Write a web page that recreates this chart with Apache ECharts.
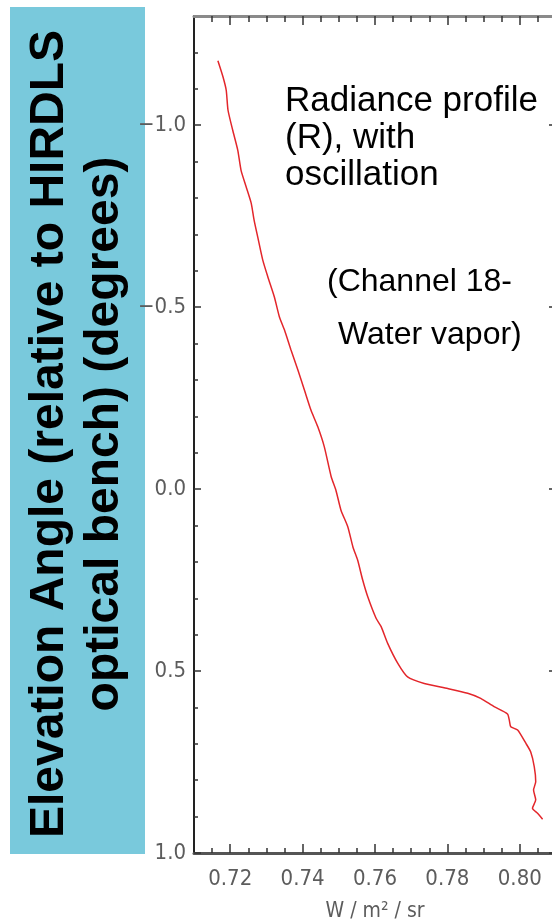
<!DOCTYPE html>
<html>
<head>
<meta charset="utf-8">
<script src="https://cdn.jsdelivr.net/npm/echarts@6/dist/echarts.min.js"></script>
<style>
html, body { margin: 0; padding: 0; background: #fff; }
#chart { width: 552px; height: 924px; }
</style>
</head>
<body>
<div id="chart"></div>
<script>
// Radiance profile (W / m^2 / sr) against elevation angle (degrees)
const radiance = [
  0.7166, 0.7180, 0.7189, 0.7194, 0.7207, 0.7221, 0.7230, 0.7244, 0.7258, 0.7266,
  0.7276, 0.7290, 0.7304, 0.7322, 0.7336, 0.7350, 0.7368, 0.7387, 0.7405, 0.7423,
  0.7442, 0.7460, 0.7479, 0.7492, 0.7506, 0.7525, 0.7539, 0.7552, 0.7566, 0.7580,
  0.7603, 0.7617, 0.7635, 0.7663, 0.7690, 0.7736, 0.7801, 0.7856, 0.7892, 0.7929,
  0.7966, 0.7971, 0.7975, 0.7994, 0.8017, 0.8030, 0.8040, 0.8044, 0.8038, 0.8044,
  0.8035, 0.8049, 0.8063
];
const elevation = [
  -1.177, -1.133, -1.096, -1.041, -0.986, -0.931, -0.876, -0.831, -0.786, -0.739,
  -0.693, -0.629, -0.583, -0.528, -0.473, -0.437, -0.382, -0.327, -0.272, -0.217,
  -0.171, -0.116, -0.034, 0.003, 0.058, 0.104, 0.159, 0.195, 0.250, 0.296,
  0.355, 0.378, 0.424, 0.479, 0.516, 0.534, 0.548, 0.561, 0.575, 0.598,
  0.618, 0.635, 0.653, 0.662, 0.699, 0.722, 0.763, 0.804, 0.827, 0.854,
  0.877, 0.891, 0.907
];

// Tick positions and labels
const xMajorTicks = [0.72, 0.74, 0.76, 0.78, 0.80];
const xMinorTicks = [0.715, 0.725, 0.73, 0.735, 0.745, 0.75, 0.755, 0.765, 0.77, 0.775, 0.785, 0.79, 0.795, 0.805];
const yMajorTicks = [-1.0, -0.5, 0.0, 0.5, 1.0];
const yMinorTicks = [-1.2, -1.1, -0.9, -0.8, -0.7, -0.6, -0.4, -0.3, -0.2, -0.1, 0.1, 0.2, 0.3, 0.4, 0.6, 0.7, 0.8, 0.9];

const xRange = [0.71, 0.81];
const yRange = [-1.3, 1.0];

const xTitle = 'W / m\u00B2 / sr';
const sideTitle = 'Elevation Angle (relative to HIRDLS\noptical bench) (degrees)';
const noteA = 'Radiance profile\n(R), with\noscillation';
const noteB1 = '(Channel 18-';
const noteB2 = 'Water vapor)';

const tickFont = "'Liberation Sans Narrow', 'DejaVu Sans Condensed', 'Liberation Sans', sans-serif";
const tickColor = '#5c5c5c';

function axisLineDef(lineStyle) {
  return lineStyle
    ? { show: true, onZero: false, lineStyle: lineStyle }
    : { show: false, onZero: false };
}

function xAxisDef(position, ticks, len, withLabels, lineStyle) {
  return {
    type: 'value', position: position, min: xRange[0], max: xRange[1],
    splitLine: { show: false },
    axisLine: axisLineDef(lineStyle),
    axisTick: { show: true, inside: true, length: len, customValues: ticks,
                lineStyle: { color: '#333', width: 1.5 } },
    axisLabel: withLabels ? {
      show: true, customValues: ticks, margin: 15,
      fontFamily: tickFont, fontSize: 22, color: tickColor,
      formatter: v => v.toFixed(2)
    } : { show: false }
  };
}

function yAxisDef(position, ticks, len, withLabels, lineStyle) {
  return {
    type: 'value', position: position, min: yRange[0], max: yRange[1], inverse: true,
    splitLine: { show: false },
    axisLine: axisLineDef(lineStyle),
    axisTick: { show: true, inside: true, length: len, customValues: ticks,
                lineStyle: { color: '#333', width: 1.5 } },
    axisLabel: withLabels ? {
      show: true, customValues: ticks, margin: 8,
      fontFamily: tickFont, fontSize: 22, color: tickColor,
      formatter: v => v.toFixed(1).replace('-', '\u2212')
    } : { show: false }
  };
}

const bottomMajor = xAxisDef('bottom', xMajorTicks, 9, true, { color: '#555', width: 3 });
bottomMajor.name = xTitle;
bottomMajor.nameLocation = 'middle';
bottomMajor.nameGap = 48;
bottomMajor.nameTextStyle = { fontFamily: tickFont, fontSize: 21, color: tickColor };

const chart = echarts.init(document.getElementById('chart'), null, { renderer: 'canvas' });
chart.setOption({
  animation: false,
  backgroundColor: '#ffffff',
  grid: { left: 194, right: -4, top: 16, bottom: 71, containLabel: false, outerBoundsMode: 'none' },
  xAxis: [
    bottomMajor,
    xAxisDef('bottom', xMinorTicks, 5, false, null),
    xAxisDef('top', xMajorTicks, 9, false, { color: '#8a8a8a', width: 3 }),
    xAxisDef('top', xMinorTicks, 6, false, null)
  ],
  yAxis: [
    yAxisDef('left', yMajorTicks, 7, true, { color: '#222', width: 2 }),
    yAxisDef('left', yMinorTicks, 4, false, null),
    yAxisDef('right', yMajorTicks, 7, false, { color: '#444', width: 2 }),
    yAxisDef('right', yMinorTicks, 4, false, null)
  ],
  series: [{
    type: 'line',
    xAxisIndex: 0, yAxisIndex: 0,
    data: radiance.map((r, i) => [r, elevation[i]]),
    showSymbol: false,
    smooth: 0.2,
    lineStyle: { color: '#e3262b', width: 1.5 }
  }],
  graphic: [
    {
      type: 'rect', z: -1,
      shape: { x: 10, y: 7, width: 135, height: 847 },
      style: { fill: '#79c9dc' }
    },
    {
      type: 'text', x: 77, y: 434, rotation: Math.PI / 2,
      style: {
        text: sideTitle, x: 0, y: 0, align: 'center', verticalAlign: 'middle',
        fontFamily: "'Liberation Sans', Arial, sans-serif", fontWeight: 'bold',
        fontSize: 48, lineHeight: 55, fill: '#000'
      }
    },
    {
      type: 'text', x: 285, y: 83,
      style: {
        text: noteA, fontFamily: "'Liberation Sans', Arial, sans-serif",
        fontSize: 35, lineHeight: 37, fill: '#000'
      }
    },
    {
      type: 'text', x: 327, y: 266,
      style: {
        text: noteB1, fontFamily: "'Liberation Sans', Arial, sans-serif",
        fontSize: 32, fill: '#000'
      }
    },
    {
      type: 'text', x: 338, y: 319,
      style: {
        text: noteB2, fontFamily: "'Liberation Sans', Arial, sans-serif",
        fontSize: 32, fill: '#000'
      }
    }
  ]
});
</script>
</body>
</html>
